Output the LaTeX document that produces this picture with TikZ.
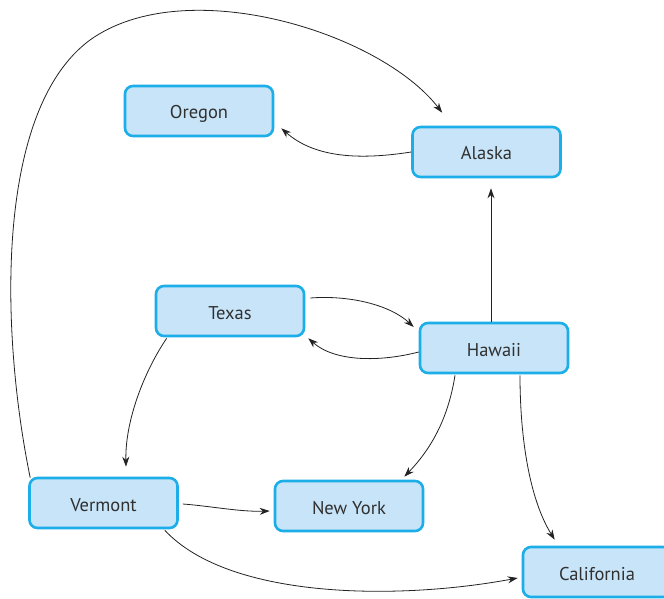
\documentclass[tikz,border=0pt]{standalone}
\usepackage{fontspec}
\setmainfont{PT Sans}
\usetikzlibrary{arrows.meta,calc}
\definecolor{boxfill}{HTML}{C8E4F8}
\definecolor{boxline}{HTML}{1CAEE8}
\definecolor{boxglow}{HTML}{7CCDF2}
\definecolor{txt}{HTML}{303030}
\definecolor{edgec}{HTML}{222222}
\begin{document}
\begin{tikzpicture}[x=1pt,y=-1pt,
  state/.style={draw=boxline,fill=boxfill,line width=2.6pt,rounded corners=8pt,
    minimum width=148pt,minimum height=50pt,inner sep=0pt,text=txt,
    text height=17pt,text depth=1pt,
    font=\fontsize{18.5}{20}\selectfont},
  edge/.style={draw=edgec,line width=0.8pt,-{Stealth[length=10pt,width=7pt]}}]
\useasboundingbox (0,0) rectangle (664,599);
\node[state] (Oregon) at (199,111) {Oregon};
\node[state] (Alaska) at (486.5,152) {Alaska};
\node[state] (Texas) at (230,311) {Texas};
\node[state] (Hawaii) at (494,348) {Hawaii};
\node[state] (Vermont) at (103.5,503) {Vermont};
\node[state] (NewYork) at (349,506) {New York};
\node[state] (California) at (597,572) {California};

% Vermont -> Alaska
\draw[edge] ($(Vermont.north west)+(2,1)$) .. controls (0,330) and (-5,110) .. (90,40)
  .. controls (185,-28) and (380,32) .. ($(Alaska.north west)+(31,-13)$);
% Alaska -> Oregon
\draw[edge] (Alaska.west) .. controls (360,160) and (315,158) .. ($(Oregon.south east)+(7,-9)$);
% Hawaii -> Alaska
\draw[edge] ($(Hawaii.north)+(-3,0)$) -- ($(Alaska.south)+(4.5,10)$);
% Texas -> Hawaii
\draw[edge] ($(Texas.east)+(5,-13)$) .. controls (350,295) and (390,305) .. ($(Hawaii.west)+(-5,-21)$);
% Hawaii -> Texas
\draw[edge] ($(Hawaii.west)+(0,4)$) .. controls (380,362) and (335,362) .. ($(Texas.south east)+(3,1)$);
% Texas -> Vermont
\draw[edge] ($(Texas.south west)+(12,1)$) .. controls (145,370) and (125,420) .. ($(Vermont.north)+(22.5,-10)$);
% Hawaii -> New York
\draw[edge] ($(Hawaii.south)+(-39,1)$) .. controls (448,420) and (430,450) .. ($(NewYork.north east)+(-20,-3)$);
% Hawaii -> California
\draw[edge] ($(Hawaii.south)+(26,1)$) .. controls (520,440) and (530,500) .. ($(California.north west)+(33,-6)$);
% Vermont -> New York
\draw[edge] ($(Vermont.east)+(4,1)$) .. controls (210,506) and (240,512) .. ($(NewYork.west)+(-4,5)$);
% Vermont -> California
\draw[edge] ($(Vermont.south east)+(-14,1)$) .. controls (230,600) and (400,600) .. ($(California.west)+(-4,6)$);
\end{tikzpicture}
\end{document}
